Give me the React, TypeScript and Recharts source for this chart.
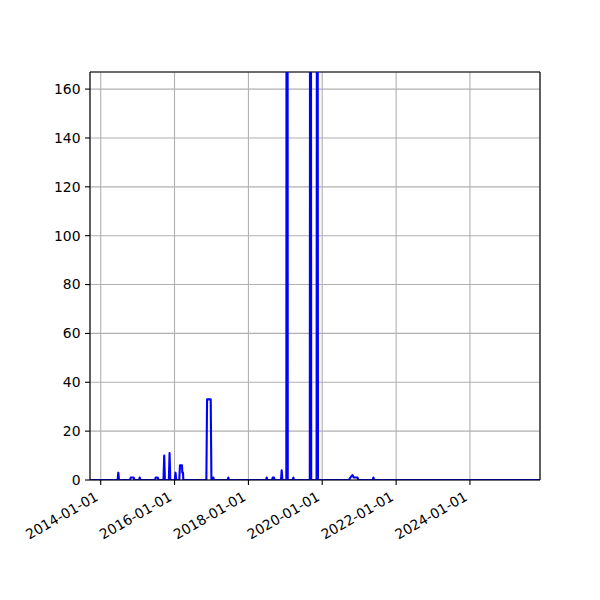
import React from 'react';
import { LineChart, Line, XAxis, YAxis, CartesianGrid, ReferenceLine } from 'recharts';

// Observation dates (baseline zeros bracket each non-zero episode)
const dates: string[] = [
  '2013-09-17',
  '2014-06-17', '2014-06-24', '2014-07-01',
  '2014-10-18', '2014-10-25', '2014-11-23', '2014-11-30',
  '2015-01-15', '2015-01-22', '2015-01-29',
  '2015-06-22', '2015-06-29', '2015-07-19', '2015-07-26',
  '2015-09-14', '2015-09-21', '2015-09-28',
  '2015-11-06', '2015-11-13', '2015-11-20',
  '2016-01-04', '2016-01-11', '2016-01-18',
  '2016-02-17', '2016-02-24', '2016-03-15', '2016-03-18', '2016-03-25', '2016-03-28',
  '2016-11-11', '2016-11-18', '2016-12-24', '2016-12-31',
  '2017-01-12', '2017-01-19', '2017-01-26',
  '2017-06-09', '2017-06-16', '2017-06-23',
  '2018-06-24', '2018-07-01', '2018-07-08',
  '2018-08-22', '2018-08-29', '2018-09-11', '2018-09-18',
  '2018-11-19', '2018-11-26', '2018-12-03',
  '2019-01-11', '2019-01-18', '2019-01-25',
  '2019-03-14', '2019-03-21', '2019-03-28',
  '2019-08-31', '2019-09-07', '2019-09-14',
  '2019-11-06', '2019-11-13', '2019-11-20',
  '2020-09-22', '2020-10-05', '2020-10-25', '2020-11-08', '2020-12-15', '2020-12-22',
  '2021-05-14', '2021-05-21', '2021-05-28',
  '2025-11-24',
];

const values: number[] = [
  0,
  0, 3, 0,
  0, 1, 1, 0,
  0, 1, 0,
  0, 1, 1, 0,
  0, 10, 0,
  0, 11, 0,
  0, 3, 0,
  0, 6, 6, 3, 3, 0,
  0, 33, 33, 0,
  0, 1, 0,
  0, 1, 0,
  0, 1, 0,
  0, 1, 1, 0,
  0, 4, 0,
  0, 900, 0,
  0, 1, 0,
  0, 600, 0,
  0, 450, 0,
  0, 1, 2, 1, 1, 0,
  0, 1, 0,
  0,
];

const xDomainDates: string[] = ['2013-09-17', '2025-11-24'];
const xTickDates: string[] = ['2014-01-01', '2016-01-01', '2018-01-01', '2020-01-01', '2022-01-01', '2024-01-01'];
const yTicks: number[] = [0, 20, 40, 60, 80, 100, 120, 140, 160];
const yMax = 167;

const toTs = (d: string) => Date.parse(d + 'T00:00:00Z');
const data = dates.map((d, i) => ({ t: toTs(d), v: values[i] }));
const xDomain = xDomainDates.map(toTs);
const xTicks = xTickDates.map(toTs);

const fmt = (t: number) => {
  const d = new Date(t);
  const mm = String(d.getUTCMonth() + 1).padStart(2, '0');
  const dd = String(d.getUTCDate()).padStart(2, '0');
  return `${d.getUTCFullYear()}-${mm}-${dd}`;
};

const FONT = '"DejaVu Sans", sans-serif';

const XTick = (props: any) => {
  const { x, y, payload } = props;
  const px = x - 1.5;
  const py = y + 14.5;
  return (
    <text
      x={px}
      y={py}
      textAnchor="end"
      fill="#000"
      fontSize={13.9}
      fontFamily={FONT}
      transform={`rotate(-30, ${px}, ${py})`}
    >
      {fmt(payload.value)}
    </text>
  );
};

export default function App() {
  return (
    <div style={{ position: 'absolute', left: 0, top: 0, width: 600, height: 600, background: '#fff' }}>
      <LineChart width={600} height={600} data={data} margin={{ top: 72, right: 60, bottom: 0, left: 0 }}>
        <CartesianGrid stroke="#b0b0b0" strokeWidth={1.1} />
        <XAxis
          dataKey="t"
          type="number"
          scale="time"
          domain={xDomain}
          ticks={xTicks}
          allowDataOverflow
          height={120}
          tickSize={5}
          tickMargin={0}
          interval={0}
          tick={<XTick />}
          tickLine={{ stroke: '#000', strokeWidth: 1.1 }}
          axisLine={{ stroke: '#000', strokeWidth: 1.1 }}
        />
        <YAxis
          type="number"
          domain={[0, yMax]}
          ticks={yTicks}
          allowDataOverflow
          width={90}
          tickSize={5}
          tickMargin={4.5}
          interval={0}
          tick={{ fill: '#000', fontSize: 13.9, fontFamily: FONT }}
          tickLine={{ stroke: '#000', strokeWidth: 1.1 }}
          axisLine={{ stroke: '#000', strokeWidth: 1.1 }}
        />
        <ReferenceLine y={yMax} stroke="#000" strokeWidth={1.1} />
        <ReferenceLine x={xDomain[1]} stroke="#000" strokeWidth={1.1} />
        <Line
          type="linear"
          dataKey="v"
          stroke="#0000ff"
          strokeWidth={2.1}
          strokeLinejoin="round"
          dot={false}
          isAnimationActive={false}
        />
      </LineChart>
    </div>
  );
}
